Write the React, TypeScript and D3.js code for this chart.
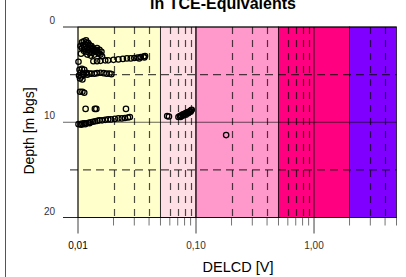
import { useEffect, useRef } from "react"
import * as d3 from "d3"

// Concentration classes along the DELCD axis (V)
const zoneBreaks = [0.01, 0.05, 0.1, 0.5, 2, 5]
const zoneColors = ["#ffffcc", "#ffdfe6", "#ff99cc", "#ff0080", "#8000ff"]

const majorTicks = [0.01, 0.1, 1]
const majorLabels = ["0,01", "0,10", "1,00"]
const minorTicks = [0.02, 0.03, 0.04, 0.05, 0.06, 0.07, 0.08, 0.09, 0.2, 0.3, 0.4, 0.5, 0.6, 0.7, 0.8, 0.9, 2, 3, 4, 5]

const depthTicks = [0, 10, 20]
const depthMinor = [5, 15]

// Log readings: DELCD [V] and depth [m bgs], same order
const sampleDelcd = [
  // upper blob
  0.0117, 0.0108, 0.0112, 0.0118, 0.0122, 0.0110, 0.0115, 0.0125, 0.013, 0.0108, 0.0113, 0.012, 0.0128, 0.0135,
  0.014, 0.0112, 0.0118, 0.0125, 0.0132, 0.0145, 0.015, 0.012, 0.0128, 0.0138, 0.0155, 0.016, 0.0105, 0.0142,
  0.0145, 0.0152, 0.0158, 0.0148, 0.0135, 0.0128, 0.0132, 0.0122, 0.0115, 0.0106,
  // trail at ~3.3 m
  0.0135, 0.0145, 0.0155, 0.017, 0.018, 0.02, 0.022, 0.024, 0.026, 0.028, 0.03, 0.032, 0.034, 0.036, 0.037, 0.033,
  0.0365, 0.0101,
  // ~5 m
  0.0103, 0.0108, 0.0113, 0.0105, 0.011, 0.0118, 0.0102, 0.0107, 0.0112, 0.012, 0.0125, 0.0104, 0.0109, 0.013,
  0.0138, 0.0145, 0.0155, 0.0165, 0.0175, 0.0185, 0.0192,
  // ~7 m and ~8.6 m
  0.0104, 0.0109, 0.0113, 0.0116, 0.0139, 0.0143, 0.0255,
  // trail at ~10 m
  0.0101, 0.0105, 0.0109, 0.0113, 0.0118, 0.0123, 0.0128, 0.0134, 0.014, 0.0146, 0.0152, 0.016, 0.017, 0.018,
  0.019, 0.0205, 0.022, 0.0235, 0.025, 0.0265, 0.0275, 0.0107, 0.0125, 0.0115,
  // ~9 m, 0.06-0.09 V
  0.057, 0.059, 0.071, 0.073, 0.075, 0.077, 0.079, 0.081, 0.083, 0.085, 0.087, 0.089, 0.091, 0.092, 0.074, 0.078,
  0.082, 0.086, 0.09,
  // single
  0.18,
]
const sampleDepth = [
  1.4, 1.6, 1.5, 1.6, 1.7, 1.9, 1.8, 1.9, 2.0, 2.2, 2.1, 2.2, 2.3, 2.3,
  2.5, 2.5, 2.6, 2.7, 2.7, 2.6, 2.8, 2.9, 3.0, 2.9, 2.9, 3.1, 2.0, 2.4,
  2.2, 2.4, 2.6, 2.7, 2.5, 2.0, 2.2, 2.4, 2.3, 2.8,
  3.6, 3.6, 3.55, 3.5, 3.5, 3.45, 3.4, 3.35, 3.3, 3.3, 3.25, 3.2, 3.15, 3.1, 3.05, 3.3,
  3.2, 3.65,
  4.5, 4.4, 4.5, 4.8, 4.9, 4.8, 5.1, 5.2, 5.0, 5.0, 4.9, 5.4, 5.5, 4.9,
  4.9, 4.85, 4.8, 4.85, 4.9, 4.9, 4.95,
  6.8, 6.8, 6.9, 8.6, 8.6, 8.6, 8.6,
  10.2, 10.2, 10.15, 10.1, 10.1, 10.05, 10.0, 9.95, 9.9, 9.85, 9.8, 9.8, 9.75, 9.7,
  9.7, 9.65, 9.6, 9.6, 9.55, 9.5, 9.45, 10.25, 10.1, 10.2,
  9.35, 9.4, 9.45, 9.35, 9.3, 9.2, 9.15, 9.1, 9.0, 8.95, 8.9, 8.85, 8.75, 8.7, 9.45, 9.3,
  9.2, 9.05, 8.9,
  11.35,
]

export default function App() {
  const svgRef = useRef<SVGSVGElement>(null)

  useEffect(() => {
    if (!svgRef.current) return
    const svg = d3.select(svgRef.current)
    svg.selectAll("*").remove()

    const font = "'Liberation Sans', Arial, sans-serif"
    const left = 78
    const right = 396.5
    const top = 27
    const bottom = 217.5

    const x = d3.scaleLog().domain([0.01, 5]).range([left, right])
    const y = d3.scaleLinear().domain([0, 20]).range([top, bottom])

    // frame line of the figure panel
    svg.append("line").attr("x1", 5.5).attr("x2", 5.5).attr("y1", 0).attr("y2", 277)
      .attr("stroke", "#555").attr("stroke-width", 1)

    // colour classes
    svg.append("g")
      .selectAll("rect")
      .data(zoneColors)
      .join("rect")
      .attr("x", (_, i) => x(zoneBreaks[i]))
      .attr("width", (_, i) => x(zoneBreaks[i + 1]) - x(zoneBreaks[i]))
      .attr("y", top)
      .attr("height", bottom - top)
      .attr("fill", (d) => d)
      .attr("stroke", "#000")
      .attr("stroke-opacity", 0.7)
      .attr("stroke-width", 1)

    // vertical grid
    svg.append("g")
      .selectAll("line")
      .data(minorTicks.filter((v) => !zoneBreaks.includes(v)))
      .join("line")
      .attr("x1", (d) => Math.round(x(d)) + 0.5)
      .attr("x2", (d) => Math.round(x(d)) + 0.5)
      .attr("y1", top)
      .attr("y2", bottom)
      .attr("stroke", "#000")
      .attr("stroke-opacity", 0.7)
      .attr("stroke-width", 1.2)
      .attr("stroke-dasharray", "7,6")

    svg.append("g")
      .selectAll("line")
      .data(majorTicks)
      .join("line")
      .attr("x1", (d) => x(d))
      .attr("x2", (d) => x(d))
      .attr("y1", top)
      .attr("y2", bottom + 16)
      .attr("stroke", "#000")
      .attr("stroke-opacity", 0.75)

    // horizontal grid
    svg.append("g")
      .selectAll("line")
      .data(depthMinor)
      .join("line")
      .attr("x1", 70)
      .attr("x2", right)
      .attr("y1", (d) => y(d))
      .attr("y2", (d) => y(d))
      .attr("stroke", "#000")
      .attr("stroke-opacity", 0.7)
      .attr("stroke-width", 1.2)
      .attr("stroke-dasharray", "8,5")

    svg.append("g")
      .selectAll("line")
      .data(depthTicks)
      .join("line")
      .attr("x1", 63)
      .attr("x2", right)
      .attr("y1", (d) => y(d))
      .attr("y2", (d) => y(d))
      .attr("stroke", "#000")
      .attr("stroke-opacity", (d) => (d === 10 ? 0.6 : 0.85))

    // bottom minor ticks
    svg.append("g")
      .selectAll("line")
      .data(minorTicks)
      .join("line")
      .attr("x1", (d) => x(d))
      .attr("x2", (d) => x(d))
      .attr("y1", bottom)
      .attr("y2", bottom + 8)
      .attr("stroke", "#000")
      .attr("stroke-opacity", 0.55)

    // data points
    svg.append("g")
      .selectAll("circle")
      .data(sampleDelcd)
      .join("circle")
      .attr("cx", (d) => x(d))
      .attr("cy", (_, i) => y(sampleDepth[i]))
      .attr("r", 2.7)
      .attr("fill", "none")
      .attr("stroke", "#000")
      .attr("stroke-width", 1.25)

    // labels
    svg.append("g")
      .selectAll("text")
      .data(majorTicks)
      .join("text")
      .attr("x", (d) => x(d))
      .attr("y", 249)
      .attr("text-anchor", "middle")
      .attr("font-family", font)
      .attr("font-size", 10)
      .attr("fill", (_, i) => (i === 0 ? "#000" : "#333"))
      .text((_, i) => majorLabels[i])

    svg.append("g")
      .selectAll("text")
      .data(depthTicks)
      .join("text")
      .attr("x", 55)
      .attr("y", (d) => y(d) - 3)
      .attr("text-anchor", "end")
      .attr("font-family", font)
      .attr("font-size", 10)
      .attr("fill", "#333")
      .text((d) => d)

    svg.append("text")
      .attr("x", 238)
      .attr("y", 272)
      .attr("text-anchor", "middle")
      .attr("font-family", font)
      .attr("font-size", 14.5)
      .text("DELCD [V]")

    svg.append("text")
      .attr("transform", "translate(34,131) rotate(-90)")
      .attr("text-anchor", "middle")
      .attr("font-family", font)
      .attr("font-size", 14)
      .text("Depth [m bgs]")

    svg.append("text")
      .attr("x", 223)
      .attr("y", 8.5)
      .attr("text-anchor", "middle")
      .attr("font-family", font)
      .attr("font-size", 16)
      .attr("font-weight", "bold")
      .text("in TCE-Equivalents")
  }, [])

  return (
    <svg
      ref={svgRef}
      width={406}
      height={277}
      style={{ position: "absolute", left: 0, top: 0, background: "#fff" }}
    />
  )
}
